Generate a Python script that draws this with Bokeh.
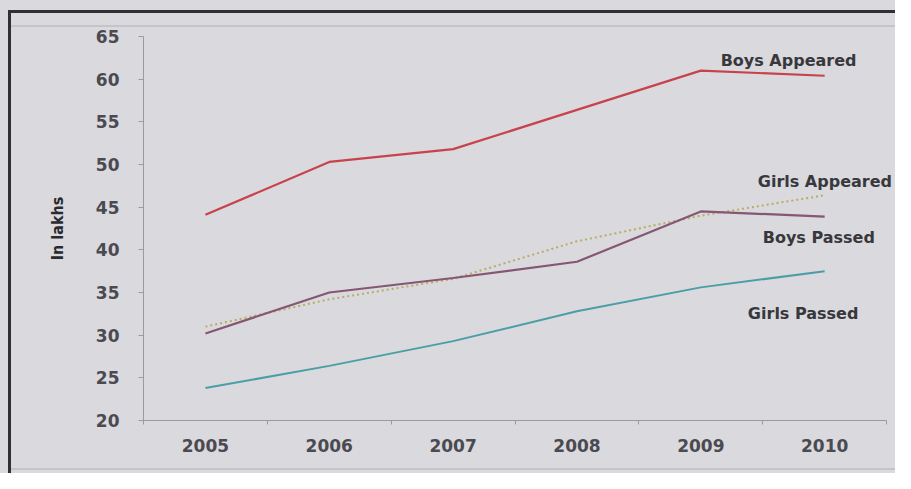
from bokeh.plotting import figure
from bokeh.models import FixedTicker, Label, Range1d
from bokeh.embed import file_html
from bokeh.resources import INLINE

years = [2005, 2006, 2007, 2008, 2009, 2010]
boys_appeared = [44.1, 50.3, 51.8, 56.4, 61.0, 60.4]
girls_appeared = [31.0, 34.2, 36.6, 41.0, 44.0, 46.4]
boys_passed = [30.2, 35.0, 36.7, 38.6, 44.5, 43.9]
girls_passed = [23.8, 26.4, 29.3, 32.8, 35.6, 37.5]
y_ticks = [20, 25, 30, 35, 40, 45, 50, 55, 60, 65]

bg = "#d9d9de"
x_lo, x_hi = years[0] - 0.5, years[-1] + 0.5
p = figure(width=895, height=473, output_backend="svg", toolbar_location=None,
           x_range=Range1d(x_lo, x_hi + 0.072), y_range=Range1d(20, 65),
           min_border_left=143, min_border_right=0, min_border_top=36, min_border_bottom=53,
           background_fill_alpha=0, border_fill_alpha=0)
p.outline_line_color = None
p.grid.visible = False

p.xaxis.bounds = (x_lo, x_hi)
p.xaxis.ticker = FixedTicker(ticks=years, minor_ticks=[y - 0.5 for y in years] + [x_hi])
p.xaxis.major_tick_line_color = None
p.xaxis.minor_tick_out = 4
p.xaxis.minor_tick_in = 0
p.xaxis.minor_tick_line_color = "#9a9aa2"
p.yaxis.ticker = FixedTicker(ticks=y_ticks)
p.yaxis.minor_tick_line_color = None
p.yaxis.major_tick_out = 5
p.yaxis.major_tick_in = 0
p.yaxis.major_tick_line_color = "#9a9aa2"
for ax in (p.xaxis, p.yaxis):
    ax.axis_line_color = "#9a9aa2"
    ax.major_label_text_font = "DejaVu Sans"
    ax.major_label_text_font_style = "bold"
    ax.major_label_text_font_size = "17px"
    ax.major_label_text_color = "#4a4a50"
p.xaxis.major_label_standoff = 12
p.yaxis.major_label_standoff = 19
p.yaxis.axis_label = "In lakhs"
p.yaxis.axis_label_text_font = "DejaVu Sans Condensed"
p.yaxis.axis_label_text_font_style = "bold"
p.yaxis.axis_label_text_font_size = "16px"
p.yaxis.axis_label_text_color = "#2a2a2e"
p.yaxis.axis_label_standoff = 26

p.line(years, boys_appeared, line_color="#c8424c", line_width=2.2)
p.line(years, girls_appeared, line_color="#b8ae62", line_width=2, line_dash="2 3")
p.line(years, boys_passed, line_color="#875673", line_width=2.2)
p.line(years, girls_passed, line_color="#4b9ea6", line_width=2)

labels = [("Boys Appeared", 2009.16, 62.2), ("Girls Appeared", 2009.46, 48.0),
          ("Boys Passed", 2009.5, 41.4), ("Girls Passed", 2009.38, 32.5)]
for t, lx, ly in labels:
    p.add_layout(Label(x=lx, y=ly, text=t, text_font="DejaVu Sans", text_font_style="bold",
                       text_font_size="16px", text_color="#38383c", text_baseline="middle"))

# frame lines of the photographed page, drawn as the element background
p.styles = {
    "background-color": bg,
    "background-image": ", ".join([
        "linear-gradient(to right, transparent 8px, #303030 8px, #303030 11px, transparent 11px)",
        "linear-gradient(to bottom, transparent 10px, #303030 10px, #303030 13px, transparent 13px)",
        "linear-gradient(to bottom, transparent 25px, #c4c4ca 25px, #c4c4ca 27px, transparent 27px)",
        "linear-gradient(to bottom, transparent 468px, #c4c4ca 468px, #c4c4ca 470px, transparent 470px)",
    ]),
    "background-size": "100% 100%, calc(100% - 8px) 100%, calc(100% - 11px) 100%, calc(100% - 11px) 100%",
    "background-position": "0 10px, 8px 0, 11px 0, 11px 0",
    "background-repeat": "no-repeat",
}

open("out.html", "w").write(file_html(p, INLINE))
